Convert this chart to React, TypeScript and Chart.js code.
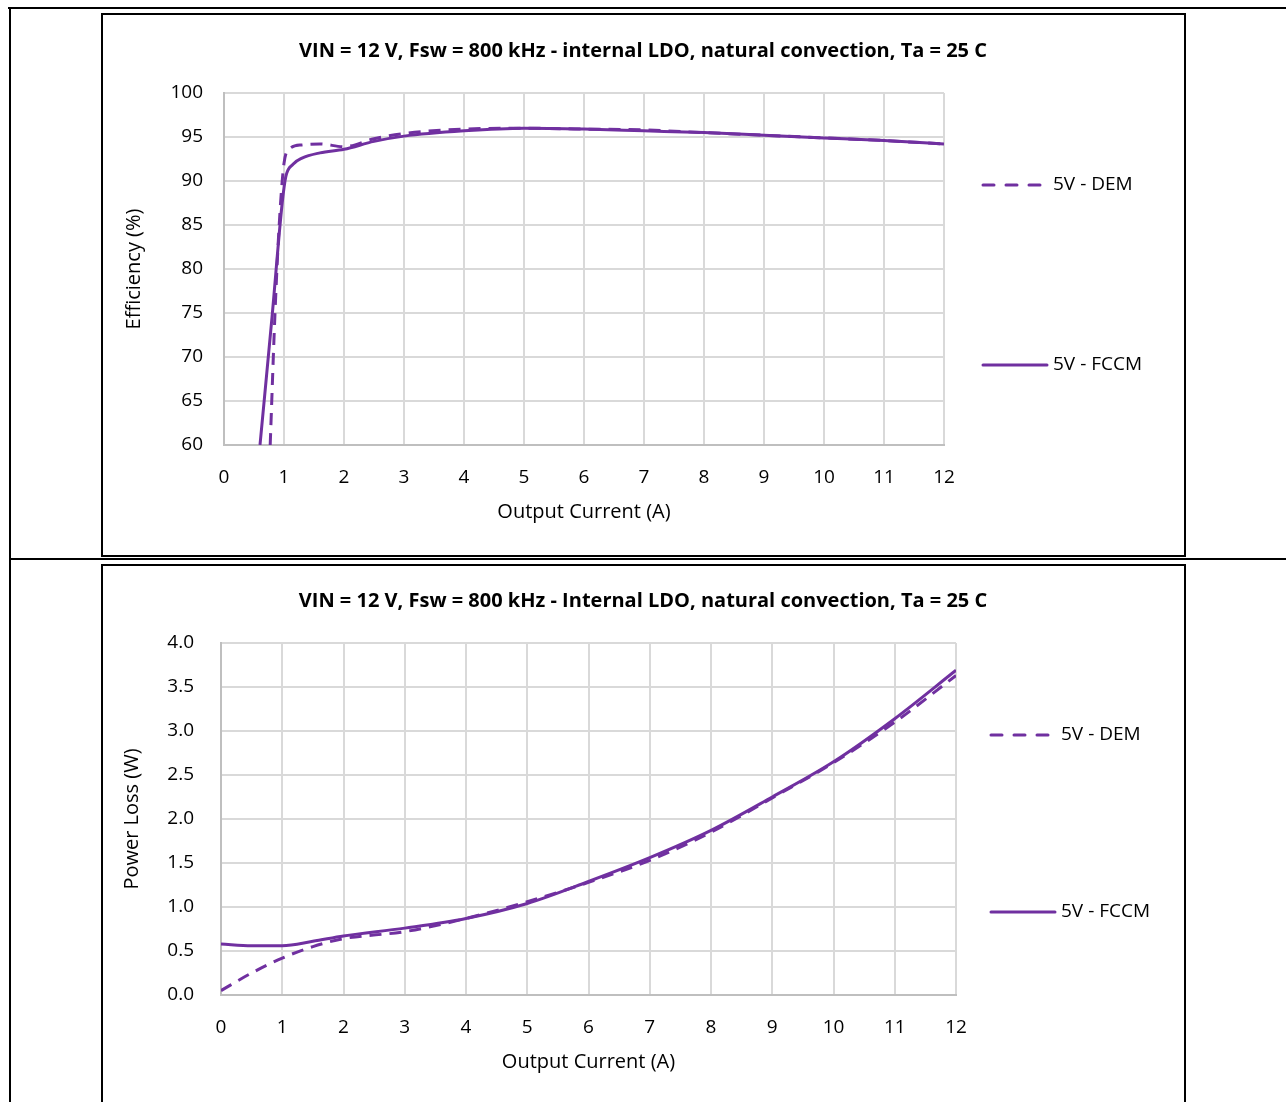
import React, { useEffect, useRef } from "react";
import { Chart, registerables } from "chart.js";

Chart.register(...registerables);

const PURPLE = "#7030A0";
const FONT = "'Open Sans', 'Noto Sans', sans-serif";

// ---------- Chart 1: Efficiency ----------
const effTitle = "VIN = 12 V, Fsw = 800 kHz - internal LDO, natural convection, Ta = 25 C";
const effCurrentDEM = [0.77, 0.85, 0.92, 1.0, 1.1, 1.3, 1.6, 2.0, 2.5, 3, 4, 5, 6, 7, 8, 9, 10, 11, 12];
const effDEM = [60, 75, 85, 92, 93.7, 94.1, 94.2, 93.9, 94.8, 95.4, 95.9, 96.0, 95.9, 95.8, 95.5, 95.2, 94.9, 94.6, 94.2];
const effCurrentFCCM = [0.6, 0.8, 0.97, 1.03, 1.15, 1.3, 1.6, 2.0, 2.5, 3, 4, 5, 6, 7, 8, 9, 10, 11, 12];
const effFCCM = [60, 74.5, 87.5, 90.5, 91.9, 92.6, 93.2, 93.6, 94.5, 95.1, 95.7, 96.0, 95.9, 95.7, 95.5, 95.2, 94.9, 94.6, 94.2];
const effYTicks = ["60", "65", "70", "75", "80", "85", "90", "95", "100"];

// ---------- Chart 2: Power loss ----------
const lossTitle = "VIN = 12 V, Fsw = 800 kHz - Internal LDO, natural convection, Ta = 25 C";
const lossCurrent = [0, 0.5, 1, 1.5, 2, 3, 4, 5, 6, 7, 8, 9, 10, 11, 12];
const lossDEM = [0.05, 0.25, 0.42, 0.55, 0.64, 0.72, 0.87, 1.06, 1.28, 1.53, 1.85, 2.24, 2.64, 3.1, 3.63];
const lossFCCM = [0.58, 0.56, 0.56, 0.61, 0.67, 0.76, 0.87, 1.04, 1.29, 1.56, 1.87, 2.25, 2.65, 3.14, 3.69];
const lossYTicks = ["0.0", "0.5", "1.0", "1.5", "2.0", "2.5", "3.0", "3.5", "4.0"];

const xTickLabels = ["0", "1", "2", "3", "4", "5", "6", "7", "8", "9", "10", "11", "12"];
const seriesNames = ["5V - DEM", "5V - FCCM"];

type Cfg = {
  width: number;
  height: number;
  title: string;
  titleY: number;
  yTitle: string;
  yMin: number;
  yMax: number;
  yStep: number;
  yTicks: string[];
  yWidth: number;
  yPad: number;
  padRight: number;
  padTop: number;
  padBottom: number;
  yTitlePad: number;
  legendX: number;
  legendYs: number[];
  dem: { x: number; y: number }[];
  fccm: { x: number; y: number }[];
};

const zip = (xs: number[], ys: number[]) => xs.map((x, i) => ({ x, y: ys[i] }));

const overlayPlugin = {
  id: "overlay",
  afterDraw(chart: any, _args: any, opts: any) {
    const ctx = chart.ctx;
    ctx.save();
    ctx.fillStyle = "#000";
    ctx.font = `bold 20px ${FONT}`;
    ctx.textAlign = "center";
    ctx.textBaseline = "middle";
    ctx.fillText(opts.title, chart.width / 2, opts.titleY);
    // legend
    ctx.font = `19px ${FONT}`;
    ctx.textAlign = "left";
    opts.legendYs.forEach((y: number, i: number) => {
      ctx.strokeStyle = PURPLE;
      ctx.lineWidth = 3;
      ctx.lineCap = "round";
      ctx.setLineDash(i === 0 ? [11, 12] : []);
      ctx.beginPath();
      ctx.moveTo(opts.legendX, y);
      ctx.lineTo(opts.legendX + 64, y);
      ctx.stroke();
      ctx.setLineDash([]);
      ctx.fillStyle = "#000";
      ctx.fillText(seriesNames[i], opts.legendX + 70, y);
    });
    ctx.restore();
  },
};

function LineChart({ cfg, style }: { cfg: Cfg; style: React.CSSProperties }) {
  const ref = useRef<HTMLCanvasElement>(null);
  useEffect(() => {
    if (!ref.current) return;
    const chart = new Chart(ref.current, {
      type: "scatter",
      data: {
        datasets: [
          {
            label: seriesNames[0],
            data: cfg.dem,
            showLine: true,
            borderColor: PURPLE,
            borderWidth: 3,
            borderDash: [12, 8],
            pointRadius: 0,
            cubicInterpolationMode: "monotone",
          },
          {
            label: seriesNames[1],
            data: cfg.fccm,
            showLine: true,
            borderColor: PURPLE,
            borderWidth: 3,
            pointRadius: 0,
            cubicInterpolationMode: "monotone",
          },
        ],
      },
      options: {
        animation: false,
        responsive: false,
        maintainAspectRatio: false,
        layout: { padding: { left: 0, right: cfg.padRight, top: cfg.padTop, bottom: cfg.padBottom } },
        plugins: {
          legend: { display: false },
          title: { display: false },
          tooltip: { enabled: false },
          overlay: {
            title: cfg.title,
            titleY: cfg.titleY,
            legendX: cfg.legendX,
            legendYs: cfg.legendYs,
          },
        } as any,
        scales: {
          x: {
            type: "linear",
            min: 0,
            max: 12,
            ticks: {
              stepSize: 1,
              padding: 21,
              color: "#000",
              font: { family: FONT, size: 19 },
              callback: (v: any) => xTickLabels[Math.round(Number(v))] ?? "",
            },
            grid: { color: "#d9d9d9", lineWidth: 2, drawTicks: false },
            border: { color: "#bfbfbf", width: 2 },
            title: {
              display: true,
              text: "Output Current (A)",
              color: "#000",
              font: { family: FONT, size: 20 },
              padding: { top: 0, bottom: 21 },
            },
            afterFit: (s: any) => {
              s.height = 100;
            },
          },
          y: {
            type: "linear",
            min: cfg.yMin,
            max: cfg.yMax,
            ticks: {
              stepSize: cfg.yStep,
              padding: cfg.yPad,
              color: "#000",
              font: { family: FONT, size: 19 },
              callback: (_v: any, i: number) => cfg.yTicks[i] ?? "",
            },
            grid: { color: "#d9d9d9", lineWidth: 2, drawTicks: false },
            border: { color: "#bfbfbf", width: 2 },
            title: {
              display: true,
              text: cfg.yTitle,
              color: "#000",
              font: { family: FONT, size: 20 },
              padding: { top: cfg.yTitlePad, bottom: 0 },
            },
            afterFit: (s: any) => {
              s.width = cfg.yWidth;
            },
          },
        },
      } as any,
      plugins: [overlayPlugin as any],
    });
    return () => chart.destroy();
  }, [cfg]);
  return <canvas ref={ref} width={cfg.width} height={cfg.height} style={{ display: "block", position: "absolute", ...style }} />;
}

const effCfg: Cfg = {
  width: 1080,
  height: 539,
  title: effTitle,
  titleY: 36,
  yTitle: "Efficiency (%)",
  yMin: 60,
  yMax: 100,
  yStep: 5,
  yTicks: effYTicks,
  yWidth: 121,
  yPad: 21,
  padRight: 239,
  padTop: 78,
  padBottom: 9,
  yTitlePad: 19,
  legendX: 880,
  legendYs: [170, 350],
  dem: zip(effCurrentDEM, effDEM),
  fccm: zip(effCurrentFCCM, effFCCM),
};

const lossCfg: Cfg = {
  width: 1080,
  height: 536,
  title: lossTitle,
  titleY: 35,
  yTitle: "Power Loss (W)",
  yMin: 0,
  yMax: 4,
  yStep: 0.5,
  yTicks: lossYTicks,
  yWidth: 118,
  yPad: 27,
  padRight: 227,
  padTop: 77,
  padBottom: 7,
  yTitlePad: 17,
  legendX: 888,
  legendYs: [169, 346],
  dem: zip(lossCurrent, lossDEM),
  fccm: zip(lossCurrent, lossFCCM),
};

export default function App() {
  const line = (s: React.CSSProperties) => <div style={{ position: "absolute", background: "#000", ...s }} />;
  return (
    <div style={{ position: "absolute", left: 0, top: 0, width: 1286, height: 1102, overflow: "hidden", background: "#fff" }}>
      {line({ left: 8, top: 7, width: 1278, height: 2 })}
      {line({ left: 9, top: 7, width: 2, height: 1095 })}
      {line({ left: 9, top: 558, width: 1277, height: 2 })}
      <div style={{ position: "absolute", left: 101, top: 13, width: 1085, height: 544, border: "2px solid #000", boxSizing: "border-box" }} />
      <div style={{ position: "absolute", left: 101, top: 564, width: 1085, height: 600, border: "2px solid #000", boxSizing: "border-box" }} />
      <LineChart cfg={effCfg} style={{ left: 103, top: 15 }} />
      <LineChart cfg={lossCfg} style={{ left: 103, top: 566 }} />
    </div>
  );
}
